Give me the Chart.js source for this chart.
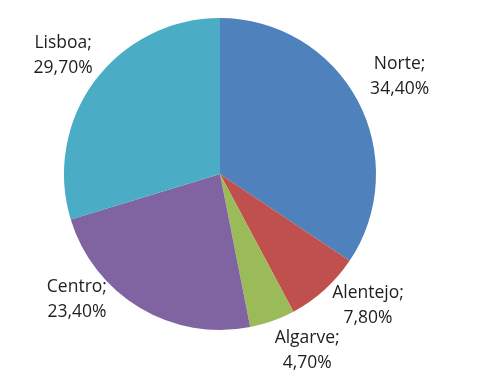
<!DOCTYPE html>
<html lang="pt">
<head>
    <meta charset="UTF-8">
    <title>Regiões</title>
    <script src="https://cdn.jsdelivr.net/npm/chart.js"></script>
    <style>
        html, body { margin: 0; padding: 0; background: #fff; }
    </style>
</head>
<body>
    <canvas id="myChart" width="500" height="388"></canvas>

    <script>
        // dados
        var labels = ['Norte', 'Alentejo', 'Algarve', 'Centro', 'Lisboa'];
        var values = [34.4, 7.8, 4.7, 23.4, 29.7];
        var colors = ['#4F81BD', '#C0504D', '#9BBB59', '#8064A2', '#4BACC6'];

        // ajuste dos rótulos: graus a partir do meio da fatia, distância em raios
        var labelTweak = [[-0.4, 1.31], [-6.2, 1.27], [-6.7, 1.26], [17.8, 1.22], [0.5, 1.26]];

        function fmt(v) {
            return v.toFixed(2).replace('.', ',') + '%';
        }

        var pieLabels = {
            id: 'pieLabels',
            afterDatasetsDraw: function (chart) {
                var ctx = chart.ctx;
                var meta = chart.getDatasetMeta(0);
                ctx.save();
                ctx.font = '17.5px "Open Sans", sans-serif';
                ctx.fillStyle = '#1e1e1e';
                ctx.textAlign = 'center';
                ctx.textBaseline = 'middle';
                meta.data.forEach(function (arc, i) {
                    var mid = (arc.startAngle + arc.endAngle) / 2 + labelTweak[i][0] * Math.PI / 180;
                    var r = arc.outerRadius * labelTweak[i][1];
                    var x = arc.x + Math.cos(mid) * r;
                    var y = arc.y + Math.sin(mid) * r;
                    ctx.fillText(labels[i] + ';', x, y - 12.5);
                    ctx.fillText(fmt(values[i]), x, y + 12.5);
                });
                ctx.restore();
            }
        };

        var ctx = document.getElementById('myChart').getContext('2d');
        var myChart = new Chart(ctx, {
            type: 'pie',
            data: {
                labels: labels,
                datasets: [{
                    data: values,
                    backgroundColor: colors,
                    borderWidth: 0
                }]
            },
            options: {
                responsive: false,
                animation: false,
                layout: { padding: { left: 64, right: 124, top: 18, bottom: 58 } },
                plugins: {
                    legend: { display: false },
                    tooltip: { enabled: false }
                }
            },
            plugins: [pieLabels]
        });
    </script>
</body>
</html>
